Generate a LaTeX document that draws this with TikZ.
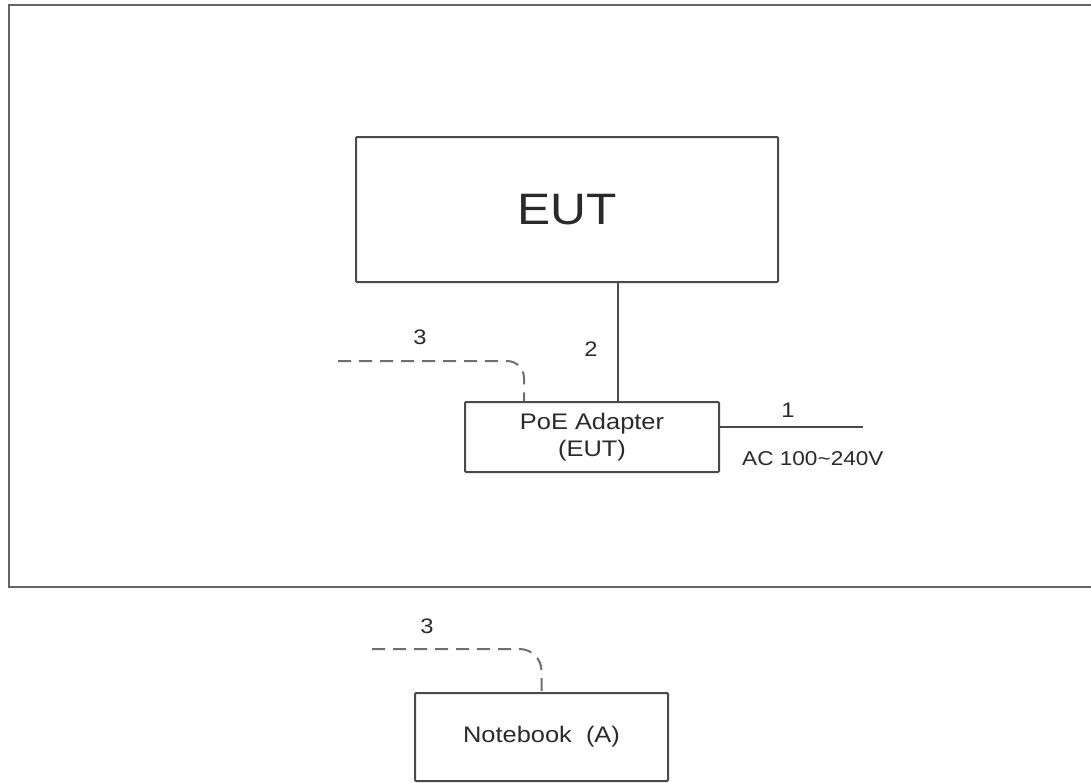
\documentclass[tikz,border=0pt]{standalone}
\usepackage{fontspec}
\setmainfont[FakeStretch=1.13]{Liberation Sans}
\usetikzlibrary{positioning}

\definecolor{linegray}{HTML}{4A4A4A}
\definecolor{dashgray}{HTML}{6E6E6E}
\definecolor{textgray}{HTML}{2A2A2A}

\begin{document}
\begin{tikzpicture}[x=1pt, y=-1pt,
    box/.style={draw=linegray, line width=2pt, rounded corners=1pt, inner sep=0pt, text=textgray},
    wire/.style={linegray, line width=2pt},
    lan/.style={dashgray, line width=2pt, dash pattern=on 13pt off 8pt},
    lbl/.style={inner sep=0pt, text=textgray, font=\fontsize{21}{24}\selectfont}]
            \useasboundingbox (0,0) rectangle (1091,782);
            \clip (0,0) rectangle (1091,782);

            % outer boundary of the test area
            \draw[linegray!85, line width=2.2pt] (9,5) rectangle (1110,587);

            % units
            \node[box, minimum width=422, minimum height=145, font=\fontsize{44}{50}\selectfont] (eut) at (567,209.5) {EUT};
            \node[box, minimum width=254, minimum height=70, align=center, font=\fontsize{22.5}{27}\selectfont] (poe) at (592,437) {PoE Adapter\\(EUT)};
            \node[box, minimum width=253, minimum height=88, font=\fontsize{22.5}{27}\selectfont] (nb) at (541.5,737) {Notebook\ \ (A)};

            % free cable ends
            \coordinate (mains) at (863,427);
            \coordinate (lanA) at (338,361);
            \coordinate (lanB) at (372,649);

            % cables
            \draw[wire] (poe.east |- mains) -- (mains);
            \draw[wire] ([xshift=26]poe.north) -- ([xshift=26]poe.north |- eut.south);
            \draw[lan, rounded corners=17] (lanA) -| ([xshift=-68]poe.north);
            \draw[lan, rounded corners=22] (lanB) -| (nb.north);

            % cable labels
            \node[lbl] (c1) at (788,410) {1};
            \node[lbl, anchor=west, font=\fontsize{20}{24}\selectfont] (ac) at (742,459) {AC 100\textasciitilde240V};
            \node[lbl] (c2) at (591,349) {2};
            \node[lbl] (c3a) at (420,337) {3};
            \node[lbl] (c3b) at (427,626) {3};
        \end{tikzpicture}
\end{document}
